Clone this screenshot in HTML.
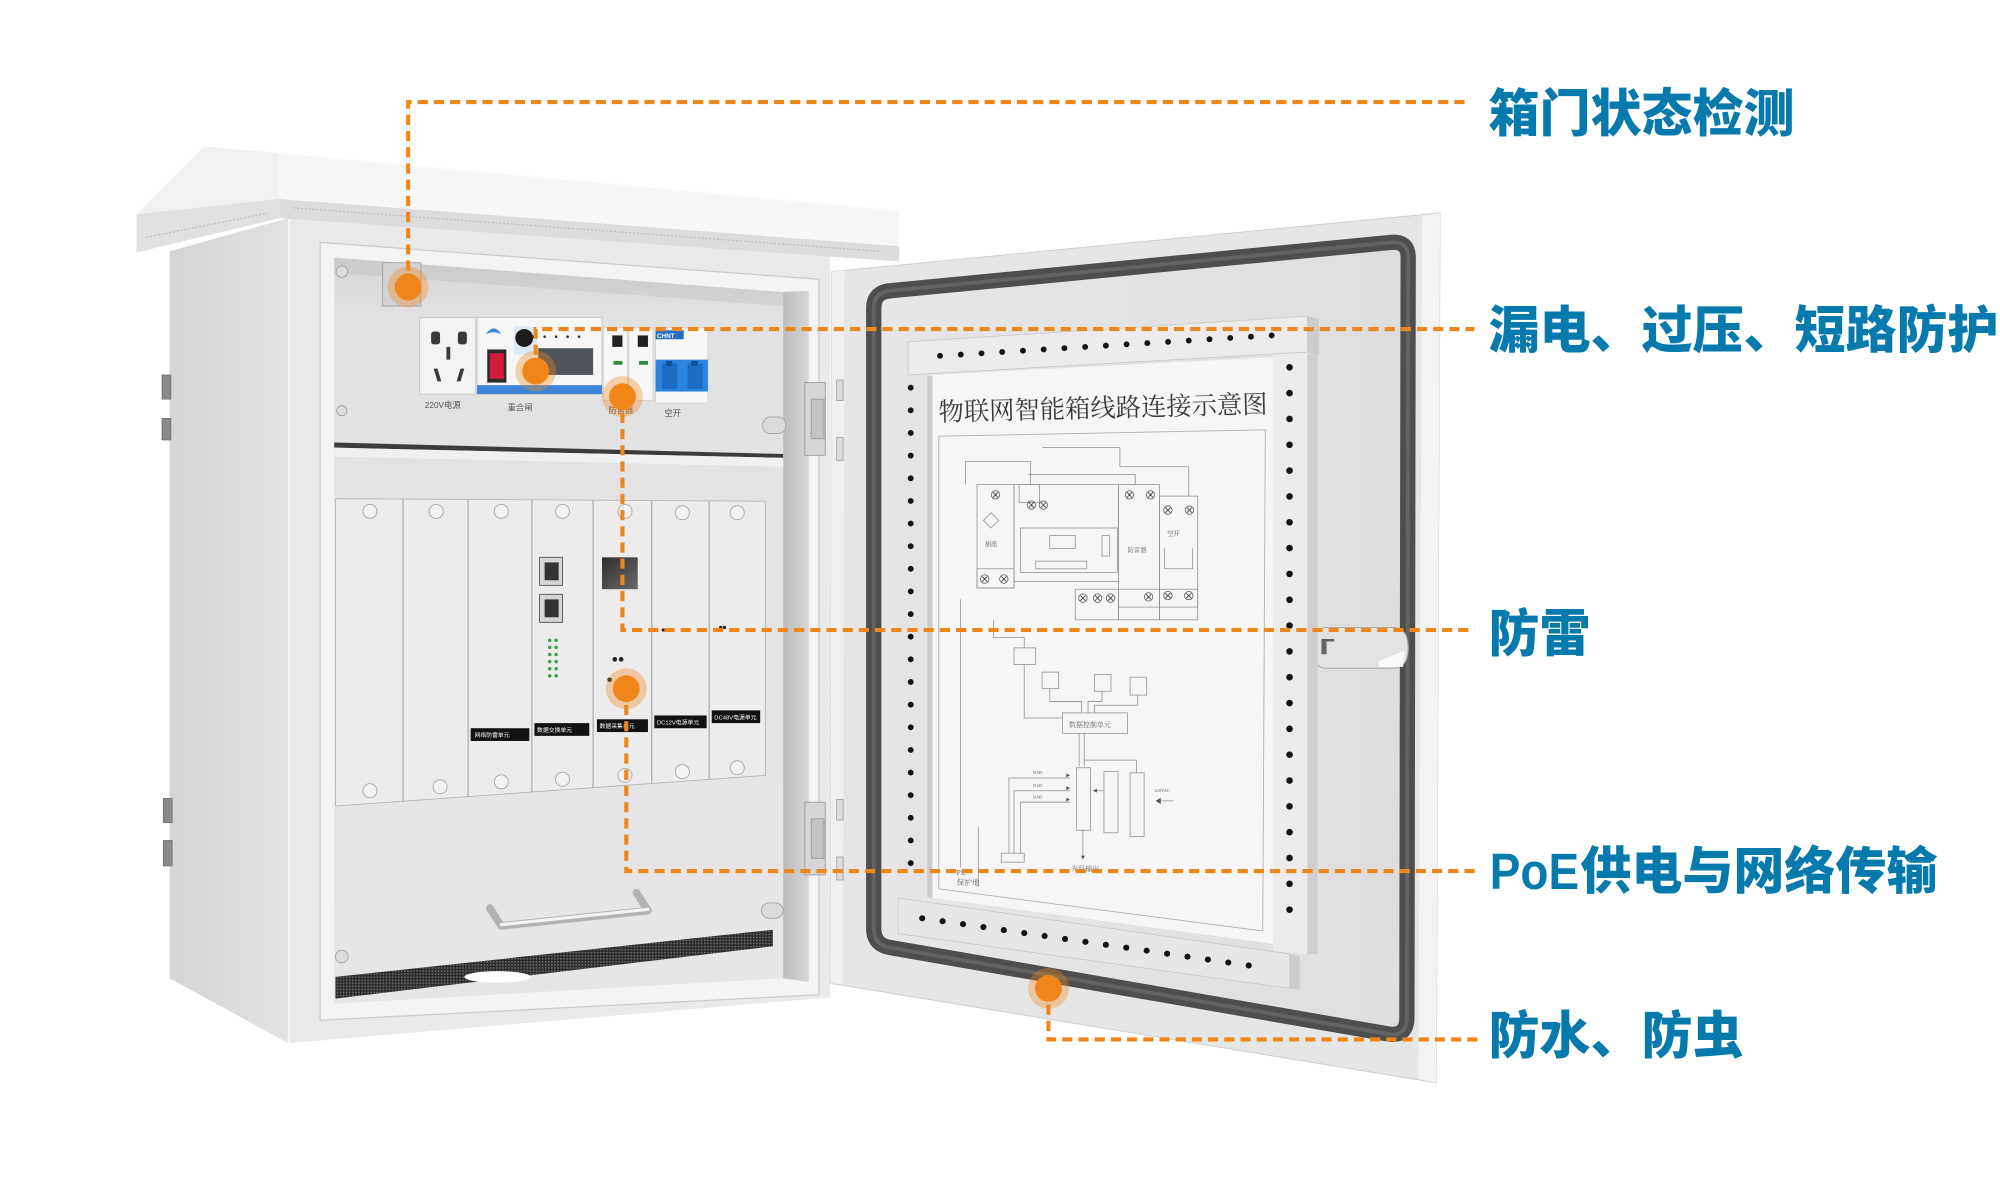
<!DOCTYPE html>
<html lang="zh"><head><meta charset="utf-8"><title>物联网智能箱</title>
<style>
html,body{margin:0;padding:0;background:#fff;width:2000px;height:1195px;overflow:hidden}
svg{display:block}
.lbl{font-family:"Liberation Sans","Noto Sans CJK SC",sans-serif;font-weight:900;font-size:40px;fill:#0679ad}
.sm{font-family:"Liberation Sans","Noto Sans CJK SC",sans-serif;fill:#555}
.wt{font-family:"Liberation Sans","Noto Sans CJK SC",sans-serif;fill:#fff;font-size:4.6px}
.dg{fill:none;stroke:#8f8f8f;stroke-width:0.6}
.dt{font-family:"Liberation Serif","Noto Serif CJK SC",serif;fill:#666}
</style></head><body>
<svg width="2000" height="1195" viewBox="0 0 1568 937" preserveAspectRatio="none" xmlns="http://www.w3.org/2000/svg">
<defs>
 <linearGradient id="gSide" x1="0" y1="0" x2="1" y2="0"><stop offset="0" stop-color="#d5d5d5"/><stop offset="1" stop-color="#e2e2e2"/></linearGradient>
 <linearGradient id="gWall" x1="0" y1="0" x2="1" y2="0"><stop offset="0" stop-color="#bdbdbd"/><stop offset="1" stop-color="#d6d6d6"/></linearGradient>
 <linearGradient id="gInner" x1="0" y1="0" x2="0" y2="1"><stop offset="0" stop-color="#d6d6d6"/><stop offset="0.08" stop-color="#e2e2e2"/><stop offset="1" stop-color="#e6e6e6"/></linearGradient>
 <linearGradient id="gDoor" x1="0" y1="0" x2="1" y2="1"><stop offset="0" stop-color="#e8e8e8"/><stop offset="1" stop-color="#dddddd"/></linearGradient>
 <linearGradient id="gPanel" x1="0" y1="0" x2="1" y2="0"><stop offset="0" stop-color="#e7e7e7"/><stop offset="1" stop-color="#dedede"/></linearGradient>
 <linearGradient id="gSfp" x1="0" y1="0" x2="1" y2="1"><stop offset="0" stop-color="#2e2e2e"/><stop offset="1" stop-color="#6a6a6a"/></linearGradient>
 <pattern id="grille" width="2.4" height="2.4" patternUnits="userSpaceOnUse"><rect width="2.4" height="2.4" fill="#2b2b2b"/><rect width="1.2" height="1.2" fill="#6d6d6d"/></pattern>
</defs>

<rect width="1568" height="937" fill="#fff"/>

<!-- ===== LEFT CABINET BODY ===== -->
<polygon points="133,197 226,171 226,818 133,767" fill="url(#gSide)"/>
<polygon points="226,171 651,201 651,782 226,818" fill="#eaeaea"/>
<line x1="226.5" y1="171" x2="226.5" y2="818" stroke="#f6f6f6" stroke-width="1.5"/>
<!-- side hinges -->
<g fill="#8a8a8a" stroke="#666" stroke-width="0.5">
 <rect x="127" y="294" width="7" height="19"/><rect x="127" y="328" width="7" height="17"/>
 <rect x="128" y="626" width="7" height="19"/><rect x="128" y="659" width="7" height="20"/>
</g>

<!-- lid -->
<polygon points="160,115 219,120 219,156 107,168" fill="#f1f1f1"/>
<polygon points="107,168 219,156 219,171 107,198" fill="#e0e0e0"/>
<polygon points="219,120 705,165 705,193 219,156" fill="#f7f7f7"/>
<polygon points="219,156 705,193 705,205 219,171" fill="#dcdcdc"/>
<line x1="230" y1="163" x2="690" y2="197" stroke="#bdbdbd" stroke-width="1" stroke-dasharray="1.5 1.5"/>
<line x1="115" y1="186" x2="210" y2="167" stroke="#bdbdbd" stroke-width="1" stroke-dasharray="1.5 1.5"/>
<line x1="219" y1="120" x2="705" y2="165" stroke="#fdfdfd" stroke-width="1"/>

<!-- opening lip -->
<polygon points="251,190 642,219 642,780 251,800" fill="#f4f4f4" stroke="#cdcdcd" stroke-width="1" stroke-linejoin="round"/>
<!-- interior back -->
<polygon points="262,202 614,229 614,767 262,787" fill="url(#gInner)"/>
<polygon points="614,229 634,228 634,770 614,767" fill="url(#gWall)"/>
<polygon points="262,202 614,229 614,240 262,214" fill="#000" opacity="0.05"/>

<!-- body hinges on front -->
<g fill="#d6d6d6" stroke="#9a9a9a" stroke-width="0.7">
 <rect x="631" y="300" width="16" height="57"/><rect x="636" y="313" width="10" height="31" fill="#c4c4c4"/>
 <rect x="631" y="629" width="16" height="57"/><rect x="636" y="642" width="10" height="31" fill="#c4c4c4"/>
</g>

<!-- interior screws -->
<g fill="#dcdcdc" stroke="#9a9a9a" stroke-width="0.6">
 <circle cx="268" cy="213" r="4.5"/><circle cx="268" cy="322" r="4"/><circle cx="268" cy="750" r="5"/>
 <rect x="598" y="327" width="18" height="13" rx="6"/><rect x="597" y="708" width="17" height="12" rx="6"/>
</g>
<!-- door sensor bracket -->
<rect x="300" y="206" width="30" height="34" fill="#d2d2d2" stroke="#9a9a9a" stroke-width="0.6"/>

<!-- top modules -->
<rect x="329" y="249" width="44" height="60" fill="#f3f3f3" stroke="#c9c9c9" stroke-width="0.8"/>
<g fill="#3a3a3a">
 <rect x="338" y="260" width="7" height="10" rx="2"/><rect x="359" y="260" width="7" height="10" rx="2"/>
 <rect x="350" y="272" width="3" height="10"/>
 <polygon points="340,289 343,289 346,299 343,299"/><polygon points="361,289 364,289 361,299 358,299"/>
</g>
<rect x="374" y="249" width="98" height="60" fill="#f6f6f6" stroke="#c9c9c9" stroke-width="0.8"/>
<rect x="374" y="302" width="98" height="7" fill="#3d86d6"/>
<path d="M381,262 q6,-9 12,0 q-6,-3 -12,0z" fill="#3d86d6"/>
<rect x="403" y="256" width="18" height="22" fill="#dbe8f6"/>
<circle cx="411" cy="265" r="7" fill="#1b1b1b"/>
<rect x="382" y="274" width="15" height="26" fill="#2b2b2b"/>
<rect x="384" y="277" width="11" height="20" fill="#d11d3a"/>
<rect x="422" y="273" width="43" height="21" fill="#4f555b"/>
<g fill="#333"><circle cx="418" cy="264" r="1"/><circle cx="427" cy="264" r="1"/><circle cx="436" cy="264" r="1"/><circle cx="445" cy="264" r="1"/><circle cx="454" cy="264" r="1"/></g>
<rect x="473" y="257" width="19" height="57" fill="#f7f7f7" stroke="#cfcfcf" stroke-width="0.6"/>
<rect x="493" y="257" width="19" height="57" fill="#f7f7f7" stroke="#cfcfcf" stroke-width="0.6"/>
<rect x="480" y="263" width="8" height="9" fill="#222"/><rect x="500" y="263" width="8" height="9" fill="#222"/>
<rect x="481" y="283" width="7" height="3" fill="#2f8a3a"/><rect x="501" y="283" width="7" height="3" fill="#2f8a3a"/>
<rect x="514" y="257" width="41" height="59" fill="#f7f7f7" stroke="#cfcfcf" stroke-width="0.6"/>
<rect x="514" y="259" width="22" height="7" fill="#1f6fc8"/>
<text x="515" y="265" font-size="5" fill="#fff" font-family="Liberation Sans,sans-serif" font-weight="bold">CHNT</text>
<rect x="514" y="282" width="41" height="25" fill="#2b84e0"/>
<rect x="519" y="285" width="12" height="20" fill="#1d6cc4"/><rect x="539" y="285" width="12" height="20" fill="#1d6cc4"/>
<rect x="522" y="283" width="5" height="4" fill="#0e4f99"/><rect x="542" y="283" width="5" height="4" fill="#0e4f99"/>
<text class="sm" x="333" y="320" font-size="6.5">220V电源</text>
<text class="sm" x="398" y="322" font-size="6.5">重合闸</text>
<text class="sm" x="477" y="324" font-size="6.5">防雷器</text>
<text class="sm" x="521" y="326" font-size="6.5">空开</text>

<!-- divider -->
<polygon points="262,347 614,356 614,359 262,351" fill="#3c3c3c"/>
<polygon points="262,351 614,359 614,366 262,358" fill="#f0f0f0"/>

<!-- card rack -->
<polygon points="263,391 600,393 600,608 263,632" fill="#ececec" stroke="#b5b5b5" stroke-width="0.7"/>
<g stroke="#a6a6a6" stroke-width="0.9">
 <line x1="316" y1="392" x2="316" y2="628"/><line x1="367" y1="392" x2="367" y2="625"/>
 <line x1="417" y1="392" x2="417" y2="621"/><line x1="465" y1="392" x2="465" y2="618"/>
 <line x1="511" y1="393" x2="511" y2="614"/><line x1="556" y1="393" x2="556" y2="611"/>
</g>
<g fill="#f3f3f3" stroke="#a8a8a8" stroke-width="0.7">
 <circle cx="290" cy="401" r="5.5"/><circle cx="342" cy="401" r="5.5"/><circle cx="393" cy="401" r="5.5"/><circle cx="441" cy="401" r="5.5"/><circle cx="490" cy="401" r="5.5"/><circle cx="535" cy="402" r="5.5"/><circle cx="578" cy="402" r="5.5"/>
 <circle cx="290" cy="620" r="5.5"/><circle cx="345" cy="617" r="5.5"/><circle cx="393" cy="613" r="5.5"/><circle cx="441" cy="611" r="5.5"/><circle cx="490" cy="608" r="5.5"/><circle cx="535" cy="605" r="5.5"/><circle cx="578" cy="602" r="5.5"/>
</g>
<!-- RJ45 & SFP -->
<rect x="423" y="437" width="18" height="22" fill="#d5d5d5" stroke="#555" stroke-width="0.7"/>
<rect x="427" y="441" width="11" height="14" fill="#333"/>
<rect x="423" y="466" width="18" height="22" fill="#d5d5d5" stroke="#555" stroke-width="0.7"/>
<rect x="427" y="470" width="11" height="14" fill="#333"/>
<rect x="472" y="437" width="28" height="25" fill="url(#gSfp)"/>
<g fill="#3aa64a">
 <circle cx="431" cy="502" r="1.4"/><circle cx="436" cy="502" r="1.4"/><circle cx="431" cy="507.6" r="1.4"/><circle cx="436" cy="507.6" r="1.4"/>
 <circle cx="431" cy="513.2" r="1.4"/><circle cx="436" cy="513.2" r="1.4"/><circle cx="431" cy="518.8" r="1.4"/><circle cx="436" cy="518.8" r="1.4"/>
 <circle cx="431" cy="524.4" r="1.4"/><circle cx="436" cy="524.4" r="1.4"/><circle cx="431" cy="530" r="1.4"/><circle cx="436" cy="530" r="1.4"/>
</g>
<g fill="#222"><circle cx="482" cy="517" r="1.8"/><circle cx="487" cy="517" r="1.8"/><circle cx="478" cy="533" r="1.8"/><circle cx="520" cy="494" r="1.3"/><circle cx="523" cy="494" r="1.3"/><circle cx="565" cy="492" r="1.3"/><circle cx="568" cy="492" r="1.3"/></g>
<!-- black labels -->
<rect x="369" y="571" width="46" height="10" fill="#111"/><text class="wt" x="372" y="578">网络防雷单元</text>
<rect x="419" y="567" width="43" height="10" fill="#111"/><text class="wt" x="421" y="574">数据交换单元</text>
<rect x="468" y="564" width="40" height="10" fill="#111"/><text class="wt" x="470" y="571">数据采集单元</text>
<rect x="513" y="561" width="41" height="10" fill="#111"/><text class="wt" x="515" y="568">DC12V电源单元</text>
<rect x="558" y="557" width="38" height="10" fill="#111"/><text class="wt" x="560" y="564">DC48V电源单元</text>

<!-- handle -->
<path d="M384,712 L393,726 L508,714 L499,700" fill="none" stroke="#b3b3b3" stroke-width="6" stroke-linejoin="round" stroke-linecap="round"/>
<line x1="393" y1="725" x2="508" y2="713" stroke="#f4f4f4" stroke-width="2.5" stroke-linecap="round"/>
<!-- grille -->
<polygon points="263,766 606,729 606,742 263,783" fill="url(#grille)"/>
<ellipse cx="390" cy="766" rx="26" ry="4.5" fill="#fff"/>

<!-- ===== DOOR ===== -->
<polygon points="652,213 1129,167 1126,849 651,771" fill="#e6e6e6" stroke="#cfcfcf" stroke-width="0.8"/>
<polygon points="652,213 662,212 661,772 651,771" fill="#f0f0f0"/>
<polygon points="1115,169 1129,167 1126,849 1112,846" fill="#f3f3f3"/>
<g fill="#dcdcdc" stroke="#8a8a8a" stroke-width="0.5">
 <rect x="656" y="298" width="5" height="16"/><rect x="656" y="343" width="5" height="18"/>
 <rect x="656" y="627" width="5" height="16"/><rect x="656" y="672" width="5" height="18"/>
</g>
<path d="M685,242 Q685,229 698,228 L1091,190 Q1104,189 1104,202 L1103,798 Q1103,812 1090,811 L698,743 Q685,741 685,728 Z" fill="url(#gPanel)" stroke="#4e4e4e" stroke-width="12" stroke-linejoin="round"/>
<path d="M685,242 Q685,229 698,228 L1091,190 Q1104,189 1104,202 L1103,798 Q1103,812 1090,811 L698,743 Q685,741 685,728 Z" fill="none" stroke="#646464" stroke-width="3"/>

<!-- latch -->
<path d="M1040,492 L1092,492 Q1104,492 1104,508 Q1104,524 1092,524 L1040,524 Q1029,524 1029,508 Q1029,492 1040,492 Z" fill="#e3e3e3" stroke="#a8a8a8" stroke-width="0.8"/>
<polygon points="1080,519 1101,510 1100,523 1082,523" fill="#fafafa"/>
<rect x="1036" y="501" width="4" height="12" fill="#666"/><rect x="1036" y="501" width="10" height="2" fill="#666"/>

<!-- diagram holder: paper -->
<polygon points="731,294 998,280 998,740 731,704" fill="#f6f6f6"/>
<!-- bars -->
<polygon points="703,295 731,295 731,704 703,704" fill="#e4e4e4"/>
<rect x="727" y="295" width="4" height="409" fill="#cbcbcb"/>
<polygon points="998,277 1025,277 1025,748 998,746" fill="#ececec"/>
<polygon points="1025,277 1033,278 1033,748 1025,748" fill="#cfcfcf"/>
<polygon points="712,268 1025,248 1025,276 712,294" fill="#ececec" stroke="#c6c6c6" stroke-width="0.6"/>
<polygon points="1025,248 1034,250 1034,278 1025,276" fill="#cccccc"/>
<polygon points="704,704 1011,748 1011,775 704,732" fill="#e6e6e6" stroke="#c6c6c6" stroke-width="0.6"/>
<polygon points="1011,748 1019,750 1019,776 1011,775" fill="#cccccc"/>
<g fill="#141414">
 <circle cx="737" cy="279" r="2.3"/><circle cx="753.25" cy="278" r="2.3"/><circle cx="769.5" cy="277" r="2.3"/><circle cx="785.75" cy="276" r="2.3"/><circle cx="802" cy="275" r="2.3"/><circle cx="818.25" cy="274" r="2.3"/><circle cx="834.5" cy="273" r="2.3"/><circle cx="850.75" cy="272" r="2.3"/><circle cx="867" cy="271" r="2.3"/><circle cx="883.25" cy="270" r="2.3"/><circle cx="899.5" cy="269" r="2.3"/><circle cx="915.75" cy="268" r="2.3"/><circle cx="932" cy="267" r="2.3"/><circle cx="948.25" cy="266" r="2.3"/><circle cx="964.5" cy="265" r="2.3"/><circle cx="980.75" cy="264" r="2.3"/><circle cx="997" cy="263" r="2.3"/>
 <circle cx="714" cy="304" r="2.3"/><circle cx="714" cy="321.75" r="2.3"/><circle cx="714" cy="339.5" r="2.3"/><circle cx="714" cy="357.25" r="2.3"/><circle cx="714" cy="375" r="2.3"/><circle cx="714" cy="392.75" r="2.3"/><circle cx="714" cy="410.5" r="2.3"/><circle cx="714" cy="428.25" r="2.3"/><circle cx="714" cy="446" r="2.3"/><circle cx="714" cy="463.75" r="2.3"/><circle cx="714" cy="481.5" r="2.3"/><circle cx="714" cy="499.25" r="2.3"/><circle cx="714" cy="517" r="2.3"/><circle cx="714" cy="534.75" r="2.3"/><circle cx="714" cy="552.5" r="2.3"/><circle cx="714" cy="570.25" r="2.3"/><circle cx="714" cy="588" r="2.3"/><circle cx="714" cy="605.75" r="2.3"/><circle cx="714" cy="623.5" r="2.3"/><circle cx="714" cy="641.25" r="2.3"/><circle cx="714" cy="659" r="2.3"/><circle cx="714" cy="676.75" r="2.3"/>
 <circle cx="1011" cy="288" r="2.6"/><circle cx="1011" cy="308.25" r="2.6"/><circle cx="1011" cy="328.5" r="2.6"/><circle cx="1011" cy="348.75" r="2.6"/><circle cx="1011" cy="369" r="2.6"/><circle cx="1011" cy="389.25" r="2.6"/><circle cx="1011" cy="409.5" r="2.6"/><circle cx="1011" cy="429.75" r="2.6"/><circle cx="1011" cy="450" r="2.6"/><circle cx="1011" cy="470.25" r="2.6"/><circle cx="1011" cy="490.5" r="2.6"/><circle cx="1011" cy="510.75" r="2.6"/><circle cx="1011" cy="531" r="2.6"/><circle cx="1011" cy="551.25" r="2.6"/><circle cx="1011" cy="571.5" r="2.6"/><circle cx="1011" cy="591.75" r="2.6"/><circle cx="1011" cy="612" r="2.6"/><circle cx="1011" cy="632.25" r="2.6"/><circle cx="1011" cy="652.5" r="2.6"/><circle cx="1011" cy="672.75" r="2.6"/><circle cx="1011" cy="693" r="2.6"/><circle cx="1011" cy="713.25" r="2.6"/>
 <circle cx="723" cy="720" r="2.4"/><circle cx="739" cy="722.3" r="2.4"/><circle cx="755" cy="724.6" r="2.4"/><circle cx="771" cy="726.9" r="2.4"/><circle cx="787" cy="729.3" r="2.4"/><circle cx="803" cy="731.6" r="2.4"/><circle cx="819" cy="733.9" r="2.4"/><circle cx="835" cy="736.2" r="2.4"/><circle cx="851" cy="738.5" r="2.4"/><circle cx="867" cy="740.8" r="2.4"/><circle cx="883" cy="743.1" r="2.4"/><circle cx="899" cy="745.4" r="2.4"/><circle cx="915" cy="747.8" r="2.4"/><circle cx="931" cy="750.1" r="2.4"/><circle cx="947" cy="752.4" r="2.4"/><circle cx="963" cy="754.7" r="2.4"/><circle cx="979" cy="757" r="2.4"/>
</g>

<!-- sheet title -->
<text x="736" y="330" font-size="20" textLength="258" lengthAdjust="spacingAndGlyphs" transform="rotate(-1.4 736 330)" font-family="Liberation Serif, Noto Serif CJK SC, serif" fill="#3a3a3a">物联网智能箱线路连接示意图</text>

<!-- diagram content -->
<polygon points="736,342 992,337 990,730 736,697" fill="none" stroke="#b0b0b0" stroke-width="0.7"/>
<g class="dg">
 <path d="M817,351 H878 V366 H932 V389"/>
 <path d="M757,380 V362 H808 V380"/>
 <path d="M806,372 H890 V380"/>
 <rect x="766" y="380" width="29" height="81"/>
 <rect x="795" y="380" width="82" height="76"/>
 <rect x="799" y="380" width="16" height="14"/>
 <rect x="800" y="414" width="76" height="35"/>
 <rect x="812" y="440" width="40" height="6"/>
 <rect x="864" y="420" width="6" height="16"/>
 <rect x="823" y="420" width="20" height="10"/>
 <rect x="877" y="380" width="32" height="96"/>
 <rect x="909" y="389" width="30" height="87"/>
 <rect x="843" y="462" width="34" height="24"/>
 <rect x="877" y="462" width="32" height="24"/>
 <rect x="909" y="462" width="30" height="24"/>
 <rect x="766" y="446" width="29" height="15"/>
 <path d="M913,430 V446 H935 V430"/>
 <path d="M771,408 l6,-6 6,6 -6,6z"/>
 <rect x="795" y="508" width="17" height="13"/>
 <rect x="817" y="527" width="13" height="13"/>
 <rect x="858" y="529" width="13" height="13"/>
 <rect x="886" y="531" width="13" height="14"/>
 <rect x="833" y="559" width="51" height="16"/>
 <path d="M803,521 V563 H833"/>
 <path d="M823,540 V550 H848 V559"/>
 <path d="M864,542 V550 H853 V559"/>
 <path d="M892,545 V553 H858 V559"/>
 <path d="M779,486 V500 H803 V508"/>
 <path d="M846,575 V601 M850,575 V601 M850,596 H891 V606"/>
 <rect x="844" y="602" width="11" height="49"/>
 <rect x="865.5" y="605" width="11" height="48"/>
 <rect x="886" y="606" width="11" height="50"/>
 <path d="M791,669 V610 H839 M795,669 V620 H839 M800,669 V629 H839"/>
 <rect x="785" y="669" width="18" height="7"/>
 <path d="M865,620 H857 M849,651 V672 M920,628 H908"/>
 <path d="M753,470 V680 M767,648 V695"/>
</g>
<g fill="#555">
 <path d="M839,608 l-3,-1.5 v3z M839,618 l-3,-1.5 v3z M839,627 l-3,-1.5 v3z M857,620 l3,-1.5 v3z M849,674 l-1.5,-3 h3z M906,628 l4,-2.5 v5z"/>
</g>
<text class="dt" x="838" y="570" font-size="5.5">数据控制单元</text>
<text class="dt" x="840" y="683" font-size="5.5">光纤输出</text>
<text class="dt" x="750" y="686" font-size="6">PE</text>
<text class="dt" x="750" y="694" font-size="6">保护地</text>
<text class="dt" x="884" y="433" font-size="5">防雷器</text>
<text class="dt" x="915" y="420" font-size="5">空开</text>
<text class="dt" x="772" y="428" font-size="5">插座</text>
<text class="dt" x="810" y="607" font-size="3.5">RJ45</text>
<text class="dt" x="810" y="617" font-size="3.5">RJ45</text>
<text class="dt" x="810" y="626" font-size="3.5">RJ45</text>
<text class="dt" x="905" y="621" font-size="3.5">220VAC</text>
<g fill="none" stroke="#555" stroke-width="0.6">
 <circle cx="780.5" cy="388" r="3.3"/><circle cx="808.6" cy="396" r="3.3"/><circle cx="818" cy="396" r="3.3"/><circle cx="885.5" cy="388" r="3.3"/><circle cx="902" cy="388" r="3.3"/><circle cx="915.6" cy="400" r="3.3"/><circle cx="932.5" cy="400" r="3.3"/><circle cx="772" cy="454" r="3.3"/><circle cx="787" cy="454" r="3.3"/><circle cx="849" cy="469" r="3.3"/><circle cx="860.5" cy="469" r="3.3"/><circle cx="870.7" cy="469" r="3.3"/><circle cx="900.5" cy="468" r="3.3"/><circle cx="915.6" cy="467" r="3.3"/><circle cx="932" cy="467" r="3.3"/>
</g>
<g stroke="#444" stroke-width="0.7">
 <path d="M778.5,386 l4,4 m0,-4 l-4,4 M806.6,394 l4,4 m0,-4 l-4,4 M816,394 l4,4 m0,-4 l-4,4 M883.5,386 l4,4 m0,-4 l-4,4 M900,386 l4,4 m0,-4 l-4,4 M913.6,398 l4,4 m0,-4 l-4,4 M930.5,398 l4,4 m0,-4 l-4,4 M770,452 l4,4 m0,-4 l-4,4 M785,452 l4,4 m0,-4 l-4,4 M847,467 l4,4 m0,-4 l-4,4 M858.5,467 l4,4 m0,-4 l-4,4 M868.7,467 l4,4 m0,-4 l-4,4 M898.5,466 l4,4 m0,-4 l-4,4 M913.6,465 l4,4 m0,-4 l-4,4 M930,465 l4,4 m0,-4 l-4,4"/>
</g>

<!-- ===== CALLOUT LINES ===== -->
<g fill="none" stroke="#f0861a" stroke-width="3.2" stroke-dasharray="8 4.7">
 <path d="M320,225 V80 H1150"/>
 <path d="M420,291 V258 H1156"/>
 <path d="M488,311 V494 H1156"/>
 <path d="M491,540 V683 H1160"/>
 <path d="M822,775 V815 H1159"/>
</g>
<g fill="#f0861a">
 <circle cx="320" cy="225" r="16" opacity="0.35"/><circle cx="320" cy="225" r="10.5"/>
 <circle cx="420" cy="291" r="16" opacity="0.35"/><circle cx="420" cy="291" r="10.5"/>
 <circle cx="488" cy="311" r="16" opacity="0.35"/><circle cx="488" cy="311" r="10.5"/>
 <circle cx="491" cy="540" r="16" opacity="0.35"/><circle cx="491" cy="540" r="10.5"/>
 <circle cx="822" cy="775" r="16" opacity="0.35"/><circle cx="822" cy="775" r="10.5"/>
</g>

<!-- ===== LABELS ===== -->
<text class="lbl" x="1167" y="103">箱门状态检测</text>
<text class="lbl" x="1167" y="273">漏电、过压、短路防护</text>
<text class="lbl" x="1167" y="511">防雷</text>
<text class="lbl" x="1168" y="697"><tspan textLength="70" lengthAdjust="spacingAndGlyphs">PoE</tspan><tspan x="1239">供电与网络传输</tspan></text>
<text class="lbl" x="1167" y="826">防水、防虫</text>
</svg>
</body></html>
